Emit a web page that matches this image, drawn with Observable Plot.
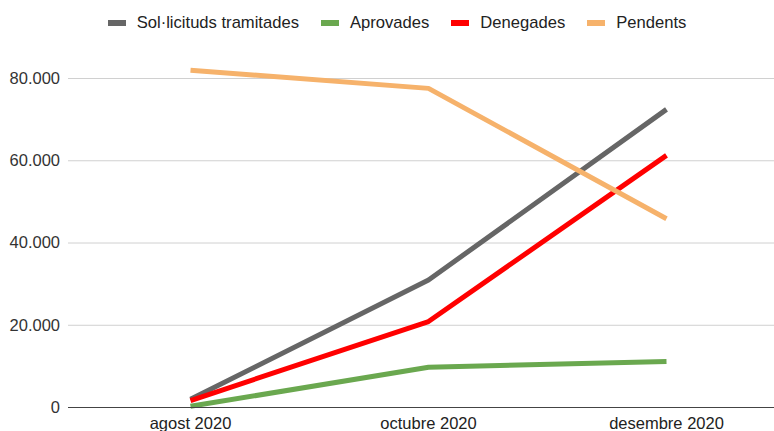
<!DOCTYPE html>
<html>
<head>
<meta charset="utf-8">
<script src="https://cdn.jsdelivr.net/npm/d3@7"></script>
<script src="https://cdn.jsdelivr.net/npm/@observablehq/plot@0.6"></script>
<style>
  body { margin: 0; background: #fff; font-family: "Liberation Sans", Arial, sans-serif; }
  #legend { height: 40px; display: flex; justify-content: center; align-items: center; font-size: 16.6px; color: #222; box-sizing: border-box; padding-top: 5px; padding-left: 42px; }
  #legend .item { display: flex; align-items: center; margin-right: 22px; }
  #legend .sw { width: 18px; height: 6px; display: inline-block; margin-right: 11px; }
</style>
</head>
<body>
<div id="legend"></div>
<div id="chart"></div>
<script>
const months = ["agost 2020", "octubre 2020", "desembre 2020"];
const seriesNames = ["Sol·licituds tramitades", "Aprovades", "Denegades", "Pendents"];
const colors = ["#666666", "#6aa84f", "#ff0000", "#f6b26b"];
const tramitades = [2000, 31000, 72500];
const aprovades = [300, 9800, 11200];
const denegades = [1700, 20900, 61300];
const pendents = [82000, 77600, 45900];
const yTicks = [0, 20000, 40000, 60000, 80000];

const valuesBySeries = [tramitades, aprovades, denegades, pendents];
const data = [];
seriesNames.forEach((s, i) => months.forEach((m, j) => data.push({series: s, month: m, value: valuesBySeries[i][j]})));

const legend = document.getElementById("legend");
seriesNames.forEach((s, i) => {
  const it = document.createElement("div");
  it.className = "item";
  it.innerHTML = `<span class="sw" style="background:${colors[i]}"></span><span>${s}</span>`;
  legend.appendChild(it);
});

const fmt = v => v === 0 ? "0" : d3.format(",")(v).replace(/,/g, ".");

const chart = Plot.plot({
  width: 774,
  height: 391,
  marginLeft: 68,
  marginRight: 0,
  marginTop: 38,
  marginBottom: 24,
  style: {fontFamily: "Liberation Sans, Arial, sans-serif", fontSize: "16.5px", color: "#333"},
  x: {type: "point", domain: months, range: [189, 666], padding: 0},
  y: {domain: [0, 80000]},
  color: {domain: seriesNames, range: colors},
  marks: [
    Plot.ruleY(yTicks.filter(d => d > 0), {stroke: "#d0d0d0", strokeWidth: 1}),
    Plot.axisY({ticks: yTicks, tickFormat: fmt, tickSize: 0, tickPadding: 8.5, label: null, fill: "#333", fontSize: 16.5}),
    Plot.axisX({tickSize: 0, tickPadding: 10, label: null, fill: "#222", fontSize: 16.5}),
    Plot.line(data, {x: "month", y: "value", z: "series", stroke: "series", strokeWidth: 5, strokeLinejoin: "miter", strokeLinecap: "butt"}),
    Plot.ruleY([0], {stroke: "#444", strokeWidth: 1.2})
  ]
});
document.getElementById("chart").appendChild(chart);
</script>
</body>
</html>
